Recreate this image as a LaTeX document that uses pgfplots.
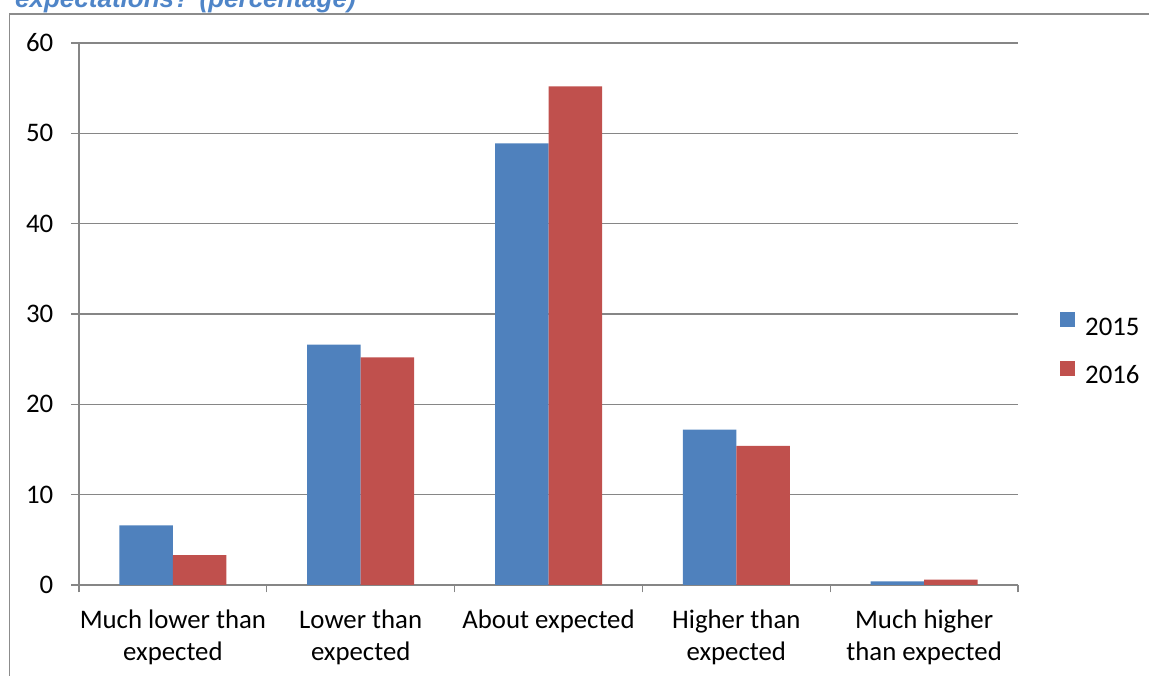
\documentclass[border=0pt]{standalone}
\usepackage{pgfplots}
\pgfplotsset{compat=1.18}
\usepackage{fontspec}
\setmainfont{Carlito}
\newfontfamily\titlefont{Liberation Sans}

\definecolor{bBlue}{RGB}{79,129,189}
\definecolor{bRed}{RGB}{192,80,77}
\definecolor{gridGray}{RGB}{134,134,134}
\definecolor{frameGray}{RGB}{140,140,140}
\definecolor{titleBlue}{RGB}{79,133,200}

\begin{document}
\begin{tikzpicture}[x=1pt,y=1pt]
\useasboundingbox (0,0) rectangle (1149,676);
\clip (0,0) rectangle (1149,676);

% outer frame of the chart
\draw[frameGray, line width=1.5pt] (9.3,-20) -- (9.3,662) -- (1170,662);

% title (partly above the page)
\node[anchor=base west, inner sep=0pt, text=titleBlue,
      font=\titlefont\bfseries\itshape\fontsize{26}{30}\selectfont]
  at (15,668) {expectations? (percentage)};

\begin{axis}[
  at={(79pt,91pt)}, anchor=south west,
  scale only axis, width=939pt, height=542pt,
  ybar=0pt, bar width=53.5pt,
  xmin=-0.5, xmax=4.5, ymin=0, ymax=60,
  ytick={0,10,...,60},
  xtick={-0.5,0.5,...,4.5},
  x tick label as interval,
  xticklabels={{Much lower than\\expected},{Lower than\\expected},{About expected},{Higher than\\expected},{Much higher\\than expected}},
  axis x line*=bottom, axis y line*=left,
  axis line style={gridGray, line width=1.3pt, -},
  ymajorgrids, grid style={gridGray, line width=1.3pt},
  tick style={gridGray, line width=1.3pt},
  tick align=outside, major tick length=7.5pt,
  /pgf/number format/assume math mode=true,
  tick label style={font=\fontsize{26.8}{32}\selectfont, inner sep=0pt},
  yticklabel style={xshift=-18pt},
  xticklabel style={align=center, yshift=-17pt},
  legend style={at={(1.0447,0.434)}, anchor=west, draw=none, fill=none,
    font=\fontsize{26.8}{32}\selectfont, inner sep=0pt,
    row sep=22pt, column sep=8pt},
  legend cell align=left,
  legend image code/.code={\fill[#1] (0pt,0pt) rectangle (15pt,15pt);},
]
\addplot[fill=bBlue, draw=none] coordinates {(0,6.6) (1,26.6) (2,48.9) (3,17.2) (4,0.4)};
\addplot[fill=bRed, draw=none] coordinates {(0,3.3) (1,25.2) (2,55.2) (3,15.4) (4,0.6)};
\legend{2015,2016}
\end{axis}
\end{tikzpicture}
\end{document}
